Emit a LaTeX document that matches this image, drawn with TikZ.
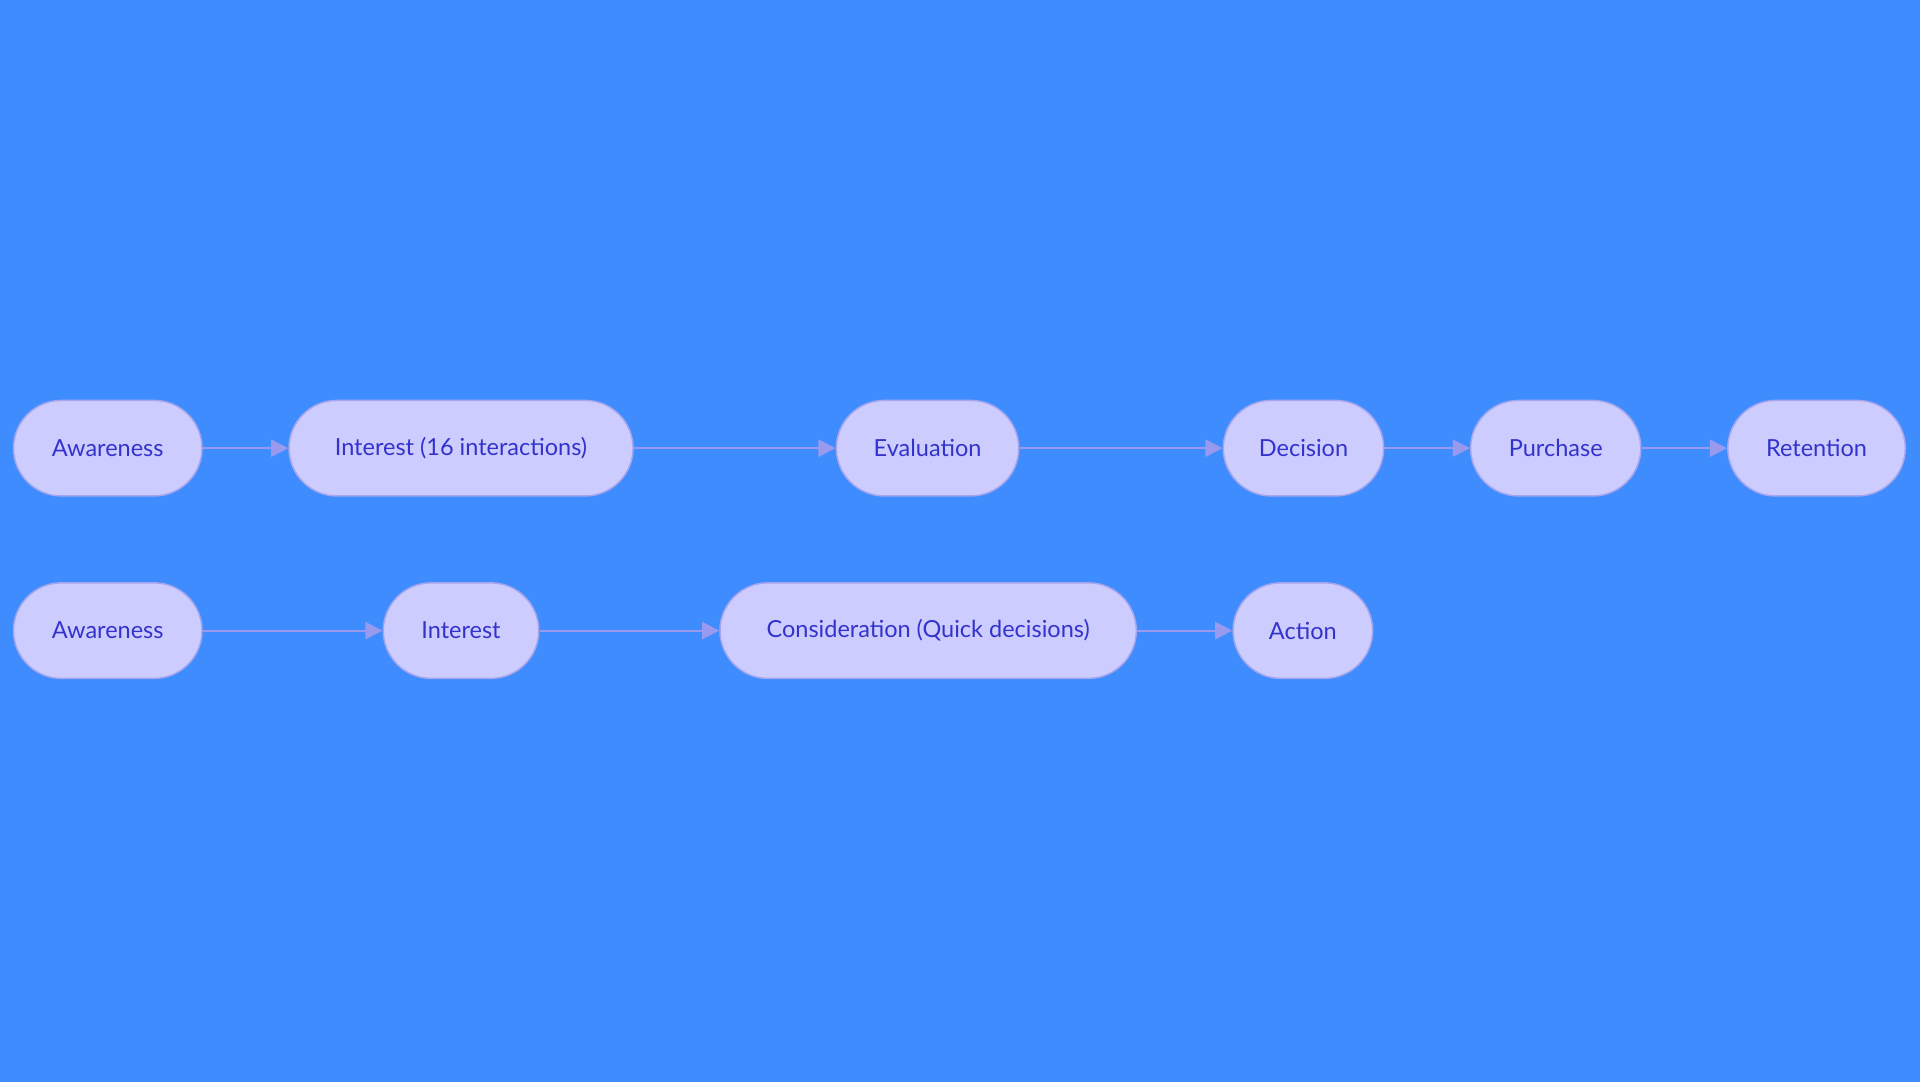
\documentclass[tikz,border=0pt]{standalone}
\usepackage{fontspec}
\setmainfont{Lato}
\usetikzlibrary{arrows.meta}
\definecolor{bg}{HTML}{3F8CFF}
\definecolor{nf}{HTML}{CCCCFF}
\definecolor{nb}{HTML}{A5A5EE}
\definecolor{tx}{HTML}{3333CC}
\definecolor{ar}{HTML}{9999EE}
\begin{document}
\begin{tikzpicture}[x=0.5pt,y=-0.5pt,
  st/.style={draw=nb,fill=nf,line width=0.6pt,rounded corners=19.5pt,minimum height=39pt,text=tx,font=\fontsize{9.6}{11}\selectfont,inner sep=0pt},
  ed/.style={draw=ar,line width=0.8pt,-{Triangle[length=7pt,width=7pt]}}]
\fill[bg] (0,0) rectangle (1568,884);
\useasboundingbox (0,0) rectangle (1568,884);
\node[st,minimum width=77pt] (a1) at (88,366) {Awareness};
\node[st,minimum width=140.5pt] (i1) at (376.5,366) {Interest (16 interactions)};
\node[st,minimum width=74.5pt] (e1) at (757.5,366) {Evaluation};
\node[st,minimum width=65.5pt] (d1) at (1064.5,366) {Decision};
\node[st,minimum width=69.5pt] (p1) at (1270.5,366) {Purchase};
\node[st,minimum width=72.5pt] (r1) at (1483.5,366) {Retention};
\node[st,minimum width=77pt] (a2) at (88,515) {Awareness};
\node[st,minimum width=63.5pt] (i2) at (376.5,515) {Interest};
\node[st,minimum width=170pt] (c2) at (758,515) {Consideration (Quick decisions)};
\node[st,minimum width=57pt] (x2) at (1064,515) {Action};
\draw[ed] (a1) -- (i1);
\draw[ed] (i1) -- (e1);
\draw[ed] (e1) -- (d1);
\draw[ed] (d1) -- (p1);
\draw[ed] (p1) -- (r1);
\draw[ed] (a2) -- (i2);
\draw[ed] (i2) -- (c2);
\draw[ed] (c2) -- (x2);
\end{tikzpicture}
\end{document}
